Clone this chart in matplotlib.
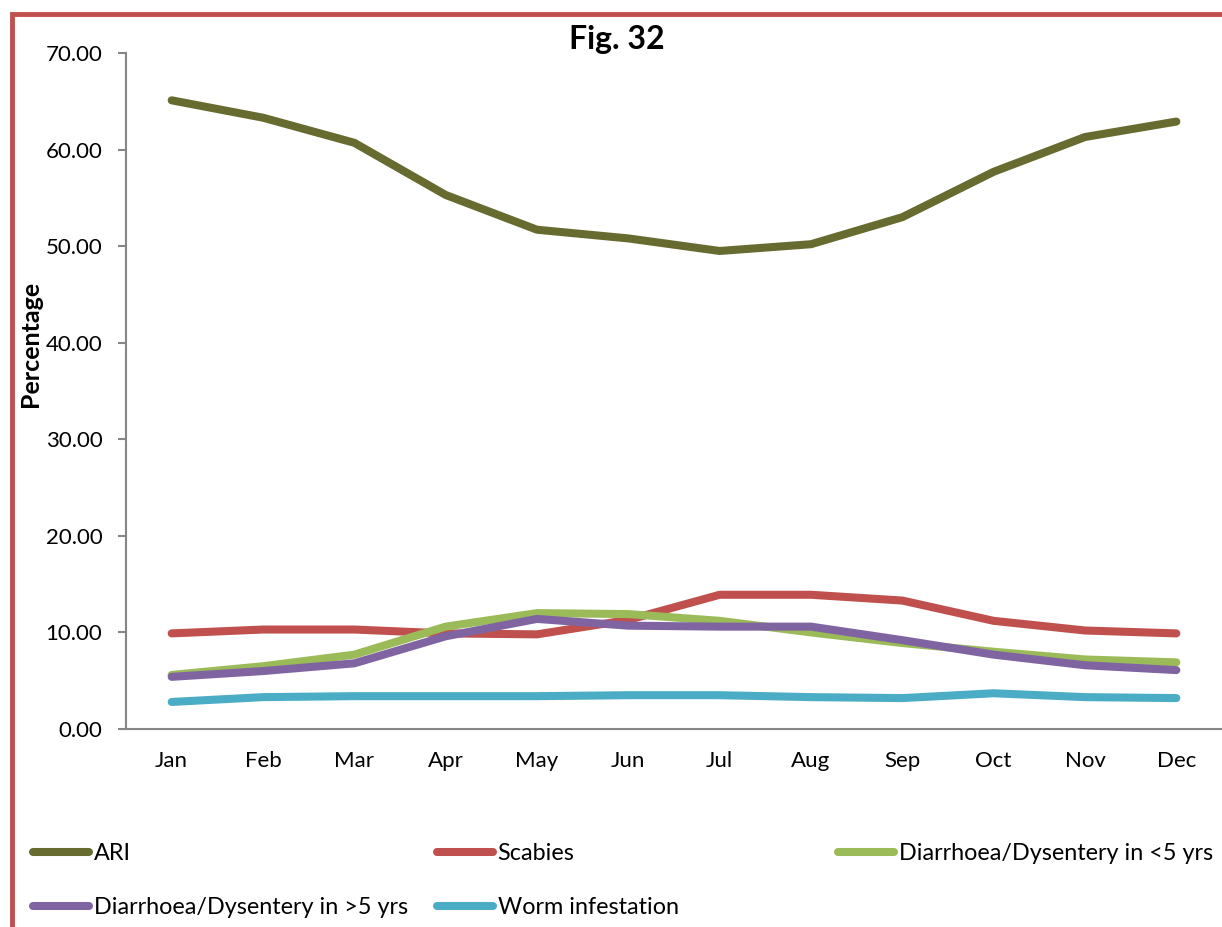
import matplotlib
matplotlib.use("Agg")
import matplotlib.pyplot as plt
from matplotlib.patches import Rectangle
from matplotlib.lines import Line2D

plt.rcParams['font.family'] = ['Lato', 'DejaVu Sans']

months = ["Jan", "Feb", "Mar", "Apr", "May", "Jun",
          "Jul", "Aug", "Sep", "Oct", "Nov", "Dec"]

ari = [65.1, 63.3, 60.7, 55.3, 51.7, 50.8, 49.5, 50.2, 53.0, 57.7, 61.3, 62.9]
scabies = [9.9, 10.3, 10.3, 9.9, 9.8, 11.3, 13.9, 13.9, 13.3, 11.2, 10.2, 9.9]
diarr_under5 = [5.6, 6.5, 7.7, 10.6, 12.0, 11.9, 11.2, 10.0, 8.9, 8.0, 7.2, 6.9]
diarr_over5 = [5.4, 6.0, 6.8, 9.6, 11.4, 10.7, 10.6, 10.6, 9.2, 7.7, 6.6, 6.1]
worm = [2.8, 3.3, 3.4, 3.4, 3.4, 3.5, 3.5, 3.3, 3.2, 3.7, 3.3, 3.2]

series = [
    ("ARI", ari, "#686B30"),
    ("Scabies", scabies, "#C0504D"),
    ("Diarrhoea/Dysentery in <5 yrs", diarr_under5, "#9BBB59"),
    ("Diarrhoea/Dysentery in >5 yrs", diarr_over5, "#8064A2"),
    ("Worm infestation", worm, "#4BACC6"),
]

fig = plt.figure(figsize=(12.22, 9.27), dpi=100)
ax = fig.add_axes([126 / 1222, 1 - 729 / 927, 1 - 126 / 1222, (729 - 53) / 927])

x = range(len(months))
for name, vals, col in series:
    ax.plot(x, vals, color=col, lw=5.8, solid_capstyle='round',
            solid_joinstyle='round', label=name)

ax.set_xlim(-0.5, 11.5)
ax.set_ylim(0, 70)
ax.set_yticks(range(0, 71, 10))
ax.set_yticklabels([f"{v:.2f}" for v in range(0, 71, 10)])
ax.set_xticks(list(x))
ax.set_xticklabels(months)

for s in ("top", "right"):
    ax.spines[s].set_visible(False)
for s in ("left", "bottom"):
    ax.spines[s].set_color("#868686")
    ax.spines[s].set_linewidth(1.5)
ax.tick_params(axis='y', length=6, width=1.5, color="#868686", pad=11, labelsize=16)
ax.tick_params(axis='x', length=0, pad=16, labelsize=16)

ax.set_ylabel("Percentage", fontsize=18, fontweight='bold')
ax.yaxis.set_label_coords(-84 / 1096, 0.57)

fig.text(617 / 1222, 1 - 40 / 927, "Fig. 32", ha='center', va='center',
         fontsize=23, fontweight='bold')

# legend laid out as three fixed columns
cols = [(33, [0, 3]), (437, [1, 4]), (838, [2])]
for xpix, idx in cols:
    handles = [Line2D([], [], color=series[i][2], lw=5.8, solid_capstyle='round')
               for i in idx]
    labels = [series[i][0] for i in idx]
    fig.legend(handles, labels, loc='upper left',
               bbox_to_anchor=(xpix / 1222, 1 - 843 / 927),
               frameon=False, fontsize=16.8, handlelength=2.4,
               handletextpad=0.2, labelspacing=1.4, borderpad=0,
               borderaxespad=0)

# chart frame
fig.patches.append(Rectangle((12 / 1222, -0.1), 1.2, 1.1 - 14 / 927,
                             transform=fig.transFigure, fill=False,
                             edgecolor="#C0504D", lw=3.5))

fig.savefig("out.png", dpi=100)
